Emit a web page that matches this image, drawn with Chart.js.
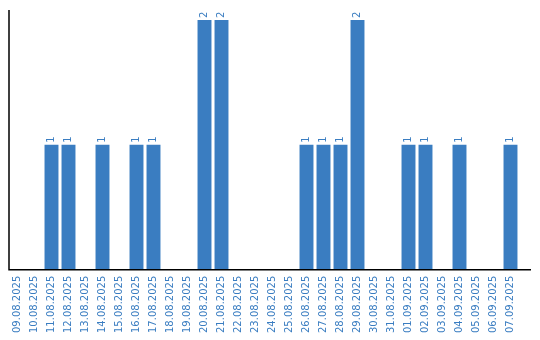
<!DOCTYPE html>
<html>
<head>
<meta charset="utf-8">
<script src="https://cdn.jsdelivr.net/npm/chart.js@4"></script>
<style>
  html, body { margin: 0; padding: 0; background: #fff; }
  #wrap { width: 540px; height: 340px; }
</style>
</head>
<body>
<div id="wrap"><canvas id="chart"></canvas></div>
<script>
// Days and counts
const dates = ['09.08.2025', '10.08.2025', '11.08.2025', '12.08.2025', '13.08.2025', '14.08.2025',
    '15.08.2025', '16.08.2025', '17.08.2025', '18.08.2025', '19.08.2025', '20.08.2025',
    '21.08.2025', '22.08.2025', '23.08.2025', '24.08.2025', '25.08.2025', '26.08.2025',
    '27.08.2025', '28.08.2025', '29.08.2025', '30.08.2025', '31.08.2025', '01.09.2025',
    '02.09.2025', '03.09.2025', '04.09.2025', '05.09.2025', '06.09.2025', '07.09.2025'];
const counts = [0, 0, 1, 1, 0, 1, 0, 1, 1, 0, 0, 2, 2, 0, 0, 0, 0, 1, 1, 1, 2, 0, 0, 1, 1, 0, 1, 0, 0, 1];

const blue = '#3a7dc1';

// Rotated value labels above bars
const valueLabels = {
    id: 'valueLabels',
    afterDatasetsDraw(chart) {
        const ctx = chart.ctx;
        const meta = chart.getDatasetMeta(0);
        ctx.save();
        ctx.fillStyle = blue;
        ctx.font = '10px "DejaVu Sans"';
        ctx.textAlign = 'left';
        ctx.textBaseline = 'middle';
        meta.data.forEach(function(bar, i) {
            if (!counts[i]) return;
            ctx.save();
            ctx.translate(bar.x, bar.y - 2);
            ctx.rotate(-Math.PI / 2);
            ctx.fillText(String(counts[i]), 0, 0);
            ctx.restore();
        });
        ctx.restore();
    }
};

// Axis lines (x axis runs a bit past the last bar)
const axisLines = {
    id: 'axisLines',
    afterDraw(chart) {
        const a = chart.chartArea;
        const ctx = chart.ctx;
        ctx.save();
        ctx.strokeStyle = '#000';
        ctx.lineWidth = 1.5;
        ctx.beginPath();
        ctx.moveTo(a.left, a.top);
        ctx.lineTo(a.left, a.bottom);
        ctx.lineTo(a.right + 12, a.bottom);
        ctx.stroke();
        ctx.restore();
    }
};

const chart = new Chart(document.getElementById('chart'), {
    type: 'bar',
    data: {
        labels: dates,
        datasets: [{
            data: counts,
            backgroundColor: blue,
            barPercentage: 0.82,
            categoryPercentage: 1
        }]
    },
    options: {
        responsive: true,
        maintainAspectRatio: false,
        animation: false,
        layout: { padding: { left: 9, right: 21, top: 10, bottom: 1 } },
        plugins: {
            legend: { display: false },
            tooltip: { enabled: false }
        },
        scales: {
            x: {
                grid: { display: false, drawTicks: false },
                border: { display: false },
                ticks: {
                    color: blue,
                    font: { family: 'DejaVu Sans', size: 10 },
                    minRotation: 90,
                    maxRotation: 90,
                    autoSkip: false,
                    padding: 6
                }
            },
            y: {
                min: 0,
                max: 2.08,
                grid: { display: false, drawTicks: false },
                border: { display: false },
                ticks: { display: false }
            }
        }
    },
    plugins: [valueLabels, axisLines]
});
</script>
</body>
</html>
